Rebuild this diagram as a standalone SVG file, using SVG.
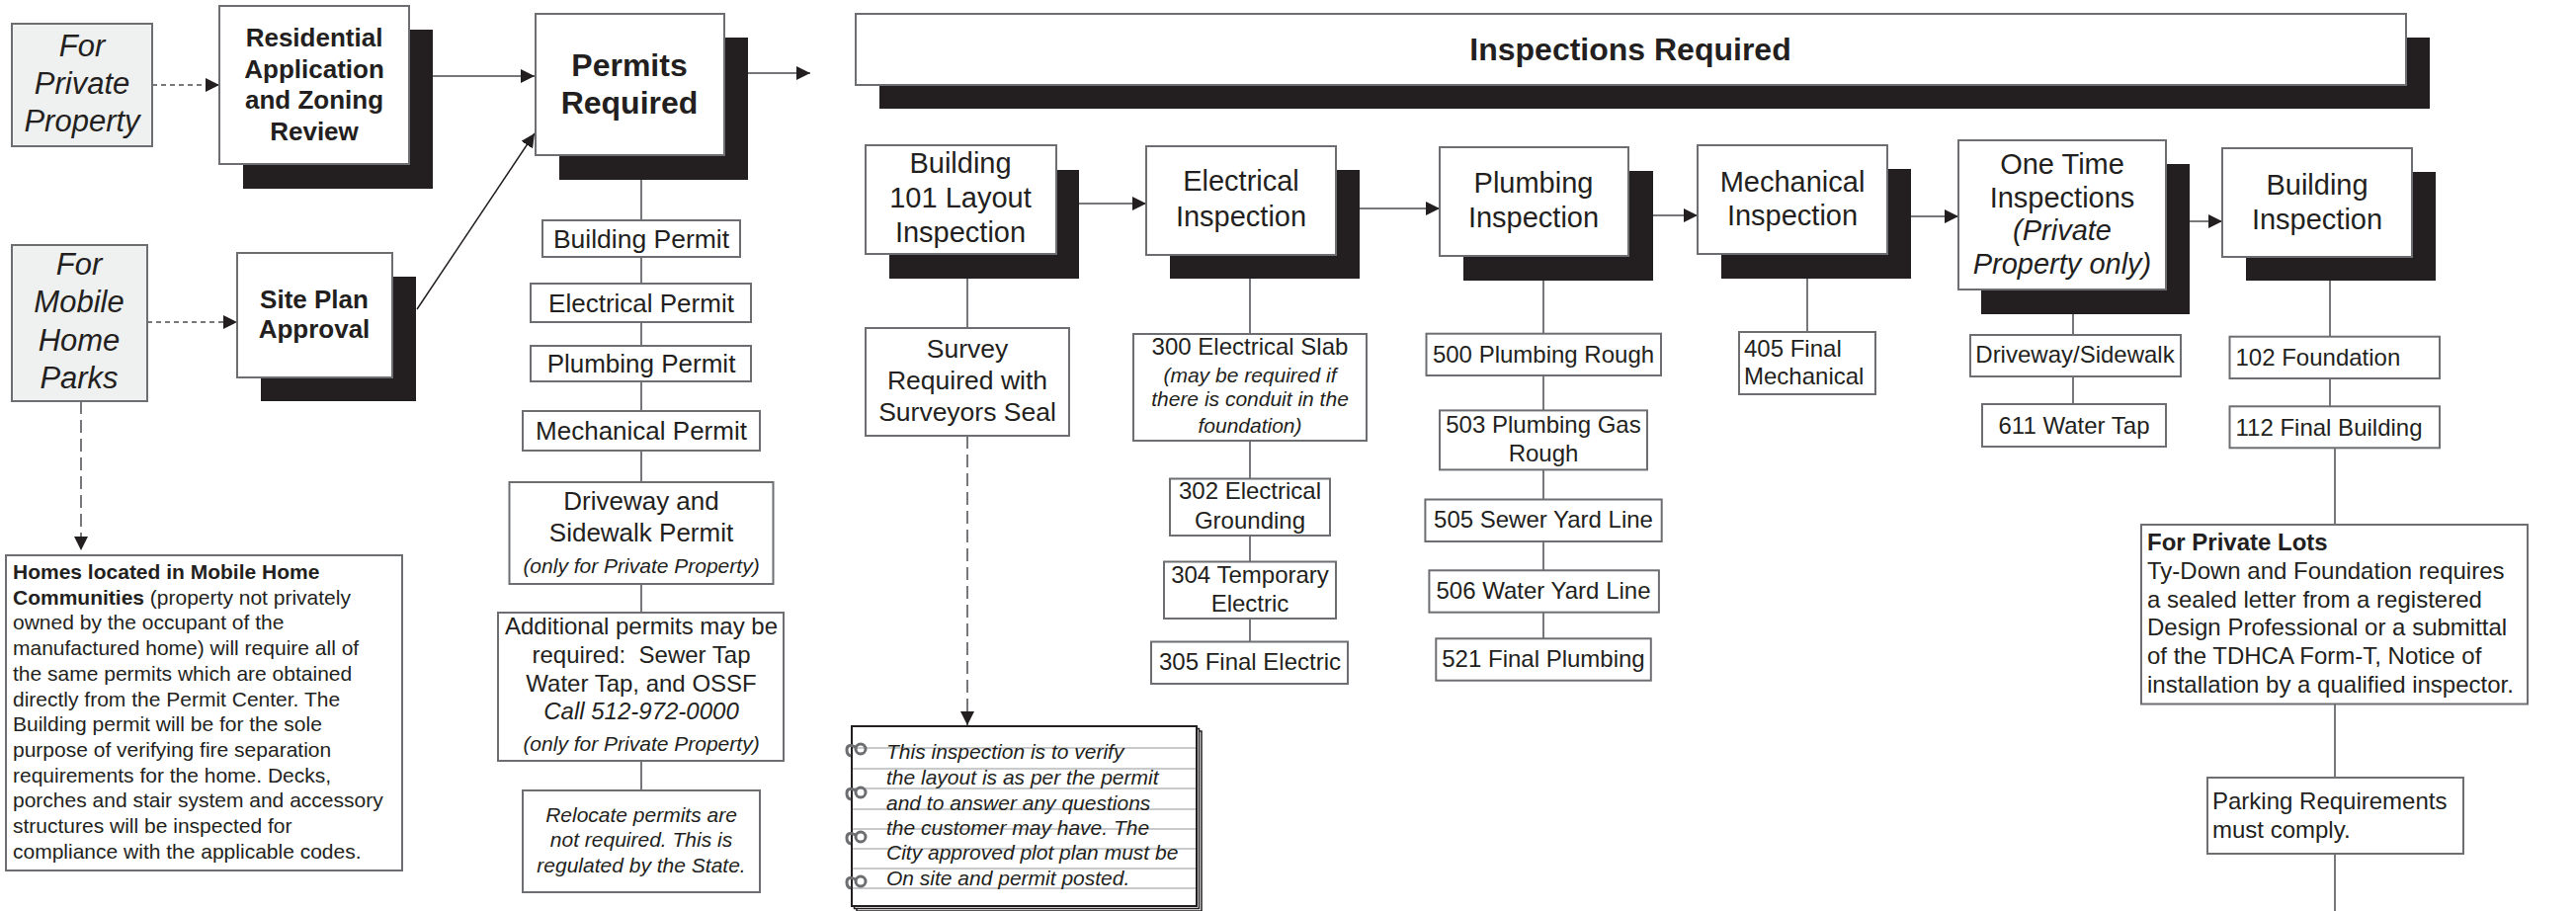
<svg xmlns="http://www.w3.org/2000/svg" width="2607" height="922" viewBox="0 0 2607 922">
<defs>
<style>
.box{fill:#fff;stroke:#6d6e71;stroke-width:2}
.gbox{fill:#eff1f0;stroke:#6d6e71;stroke-width:2}
.sh{fill:#231f20}
.ln{stroke:#77787b;stroke-width:2;fill:none}
.thin{stroke:#231f20;stroke-width:1.5;fill:none}
.sd{stroke-dasharray:5 4}
.ld{stroke-dasharray:13 6}
text{font-family:"Liberation Sans",Arial,sans-serif;fill:#231f20}
.c{text-anchor:middle}
.b{font-weight:bold}
.i{font-style:italic}
.rule{stroke:#c9cacc;stroke-width:2}
.ring{stroke:#6d6e71;stroke-width:3;fill:none}
</style>
<marker id="ah" markerUnits="userSpaceOnUse" markerWidth="14" markerHeight="14" refX="14" refY="7" orient="auto">
<path d="M0,0 L14,7 L0,14 z" fill="#231f20"/>
</marker>
</defs>
<rect width="2607" height="922" fill="#fff"/>

<g id="connectors">
<line class="ln sd" x1="154" y1="86" x2="222" y2="86" marker-end="url(#ah)"/>
<line class="ln" x1="438" y1="77" x2="541" y2="77" marker-end="url(#ah)"/>
<line class="ln sd" x1="149" y1="326" x2="240" y2="326" marker-end="url(#ah)"/>
<line class="thin" x1="422" y1="313" x2="541" y2="135" marker-end="url(#ah)"/>
<line class="ln" x1="757" y1="74" x2="820" y2="74" marker-end="url(#ah)"/>
<line class="ln ld" x1="82" y1="406" x2="82" y2="557" marker-end="url(#ah)"/>
<line class="ln" x1="649" y1="182" x2="649" y2="800"/>
<line class="ln" x1="1092" y1="206" x2="1160" y2="206" marker-end="url(#ah)"/>
<line class="ln" x1="1376" y1="211" x2="1457" y2="211" marker-end="url(#ah)"/>
<line class="ln" x1="1673" y1="218" x2="1718" y2="218" marker-end="url(#ah)"/>
<line class="ln" x1="1934" y1="219" x2="1982" y2="219" marker-end="url(#ah)"/>
<line class="ln" x1="2216" y1="224" x2="2249" y2="224" marker-end="url(#ah)"/>
<line class="ln" x1="979" y1="282" x2="979" y2="332"/>
<line class="ln ld" x1="979" y1="441" x2="979" y2="734" marker-end="url(#ah)"/>
<line class="ln" x1="1265" y1="282" x2="1265" y2="650"/>
<line class="ln" x1="1562" y1="283" x2="1562" y2="646"/>
<line class="ln" x1="1829" y1="282" x2="1829" y2="336"/>
<line class="ln" x1="2098" y1="318" x2="2098" y2="409"/>
<line class="ln" x1="2358" y1="284" x2="2358" y2="411"/>
<line class="ln" x1="2363" y1="453" x2="2363" y2="922"/>
</g>

<g id="for-private-property">
<rect class="gbox" x="12" y="24" width="142" height="124"/>
<text class="c i" font-size="31" x="83" y="57">For</text>
<text class="c i" font-size="31" x="83" y="95">Private</text>
<text class="c i" font-size="31" x="83" y="133">Property</text>
</g>

<g id="residential-application">
<rect class="sh" x="246" y="30" width="192" height="161"/>
<rect class="box" x="222" y="6" width="192" height="160"/>
<text class="c b" font-size="26" x="318" y="47">Residential</text>
<text class="c b" font-size="26" x="318" y="79">Application</text>
<text class="c b" font-size="26" x="318" y="110">and Zoning</text>
<text class="c b" font-size="26" x="318" y="142">Review</text>
</g>

<g id="permits-required">
<rect class="sh" x="566" y="38" width="191" height="144"/>
<rect class="box" x="542" y="14" width="191" height="143"/>
<text class="c b" font-size="32" x="637" y="77">Permits</text>
<text class="c b" font-size="32" x="637" y="115">Required</text>
</g>

<g id="for-mobile-home-parks">
<rect class="gbox" x="12" y="248" width="137" height="158"/>
<text class="c i" font-size="31" x="80" y="278">For</text>
<text class="c i" font-size="31" x="80" y="316">Mobile</text>
<text class="c i" font-size="31" x="80" y="355">Home</text>
<text class="c i" font-size="31" x="80" y="393">Parks</text>
</g>

<g id="site-plan-approval">
<rect class="sh" x="264" y="280" width="157" height="126"/>
<rect class="box" x="240" y="256" width="157" height="126"/>
<text class="c b" font-size="26" x="318" y="312">Site Plan</text>
<text class="c b" font-size="26" x="318" y="342">Approval</text>
</g>

<g id="homes-mobile-communities">
<rect class="box" x="6" y="562" width="401" height="319"/>
<text font-size="21" x="13" y="586"><tspan class="b">Homes located in Mobile Home</tspan></text>
<text font-size="21" x="13" y="611.7"><tspan class="b">Communities</tspan> (property not privately</text>
<text font-size="21" x="13" y="637.4">owned by the occupant of the</text>
<text font-size="21" x="13" y="663.1">manufactured home) will require all of</text>
<text font-size="21" x="13" y="688.8">the same permits which are obtained</text>
<text font-size="21" x="13" y="714.5">directly from the Permit Center. The</text>
<text font-size="21" x="13" y="740.2">Building permit will be for the sole</text>
<text font-size="21" x="13" y="765.9">purpose of verifying fire separation</text>
<text font-size="21" x="13" y="791.6">requirements for the home. Decks,</text>
<text font-size="21" x="13" y="817.3">porches and stair system and accessory</text>
<text font-size="21" x="13" y="843">structures will be inspected for</text>
<text font-size="21" x="13" y="868.7">compliance with the applicable codes.</text>
</g>

<g id="building-permit">
<rect class="box" x="549" y="223" width="200" height="37"/>
<text class="c" font-size="26.5" x="649" y="251">Building Permit</text>
</g>
<g id="electrical-permit">
<rect class="box" x="537" y="287" width="223" height="39"/>
<text class="c" font-size="26" x="649" y="316">Electrical Permit</text>
</g>
<g id="plumbing-permit">
<rect class="box" x="537" y="350" width="223" height="36"/>
<text class="c" font-size="26" x="649" y="377">Plumbing Permit</text>
</g>
<g id="mechanical-permit">
<rect class="box" x="529" y="416" width="240" height="40"/>
<text class="c" font-size="26" x="649" y="445">Mechanical Permit</text>
</g>
<g id="driveway-permit">
<rect class="box" x="515.5" y="488" width="267" height="103"/>
<text class="c" font-size="26" x="649" y="516">Driveway and</text>
<text class="c" font-size="26" x="649" y="548">Sidewalk Permit</text>
<text class="c i" font-size="21" x="649" y="580">(only for Private Property)</text>
</g>
<g id="additional-permits">
<rect class="box" x="504" y="620" width="289" height="150"/>
<text class="c" font-size="24" x="649" y="642">Additional permits may be</text>
<text class="c" font-size="24" x="649" y="671" xml:space="preserve">required:  Sewer Tap</text>
<text class="c" font-size="24" x="649" y="700">Water Tap, and OSSF</text>
<text class="c i" font-size="24" x="649" y="728">Call 512-972-0000</text>
<text class="c i" font-size="21" x="649" y="760">(only for Private Property)</text>
</g>
<g id="relocate-permits">
<rect class="box" x="529" y="800" width="240" height="103"/>
<text class="c i" font-size="21" x="649" y="832">Relocate permits are</text>
<text class="c i" font-size="21" x="649" y="857">not required. This is</text>
<text class="c i" font-size="21" x="649" y="883">regulated by the State.</text>
</g>

<g id="inspections-required">
<rect class="sh" x="890" y="38" width="1569" height="72"/>
<rect class="box" x="866" y="14" width="1569" height="72"/>
<text class="c b" font-size="32" x="1650" y="61">Inspections Required</text>
</g>

<g id="building-101-layout">
<rect class="sh" x="900" y="172" width="192" height="110"/>
<rect class="box" x="876" y="147" width="193" height="110"/>
<text class="c" font-size="29" x="972" y="175">Building</text>
<text class="c" font-size="29" x="972" y="210">101 Layout</text>
<text class="c" font-size="29" x="972" y="245">Inspection</text>
</g>
<g id="electrical-inspection">
<rect class="sh" x="1184" y="172" width="192" height="110"/>
<rect class="box" x="1160" y="148" width="192" height="110"/>
<text class="c" font-size="29" x="1256" y="193">Electrical</text>
<text class="c" font-size="29" x="1256" y="229">Inspection</text>
</g>
<g id="plumbing-inspection">
<rect class="sh" x="1481" y="173" width="192" height="111"/>
<rect class="box" x="1457" y="149" width="191" height="110"/>
<text class="c" font-size="29" x="1552" y="195">Plumbing</text>
<text class="c" font-size="29" x="1552" y="230">Inspection</text>
</g>
<g id="mechanical-inspection">
<rect class="sh" x="1742" y="171" width="192" height="111"/>
<rect class="box" x="1718" y="147" width="192" height="110"/>
<text class="c" font-size="29" x="1814" y="194">Mechanical</text>
<text class="c" font-size="29" x="1814" y="228">Inspection</text>
</g>
<g id="one-time-inspections">
<rect class="sh" x="2005" y="166" width="211" height="152"/>
<rect class="box" x="1982" y="142" width="210" height="151"/>
<text class="c" font-size="29" x="2087" y="176">One Time</text>
<text class="c" font-size="29" x="2087" y="210">Inspections</text>
<text class="c i" font-size="29" x="2087" y="243">(Private</text>
<text class="c i" font-size="29" x="2087" y="277">Property only)</text>
</g>
<g id="building-inspection">
<rect class="sh" x="2273" y="174" width="192" height="110"/>
<rect class="box" x="2249" y="150" width="192" height="110"/>
<text class="c" font-size="29" x="2345" y="197">Building</text>
<text class="c" font-size="29" x="2345" y="232">Inspection</text>
</g>

<g id="survey">
<rect class="box" x="876" y="332" width="206" height="109"/>
<text class="c" font-size="26.5" x="979" y="362">Survey</text>
<text class="c" font-size="26.5" x="979" y="394">Required with</text>
<text class="c" font-size="26.5" x="979" y="426">Surveyors Seal</text>
</g>

<g id="layout-note">
<rect x="867" y="740" width="349" height="182" fill="#fff" stroke="#231f20" stroke-width="1.5"/>
<rect x="864.5" y="737.5" width="349" height="182" fill="#fff" stroke="#231f20" stroke-width="1.5"/>
<rect x="862" y="735" width="349" height="182" fill="#fff" stroke="#231f20" stroke-width="2"/>
<line class="rule" x1="863" y1="757" x2="1210" y2="757"/>
<line class="rule" x1="863" y1="778" x2="1210" y2="778"/>
<line class="rule" x1="863" y1="798" x2="1210" y2="798"/>
<line class="rule" x1="863" y1="819" x2="1210" y2="819"/>
<line class="rule" x1="863" y1="839" x2="1210" y2="839"/>
<line class="rule" x1="863" y1="859" x2="1210" y2="859"/>
<line class="rule" x1="863" y1="879" x2="1210" y2="879"/>
<line class="rule" x1="863" y1="899" x2="1210" y2="899"/>
<g id="rings">
<circle class="ring" cx="871" cy="758" r="5"/>
<path class="ring" d="M866,756 q-9,-4 -9,3 q0,5 4,6"/>
<circle class="ring" cx="871" cy="802" r="5"/>
<path class="ring" d="M866,800 q-9,-4 -9,3 q0,5 4,6"/>
<circle class="ring" cx="871" cy="847" r="5"/>
<path class="ring" d="M866,845 q-9,-4 -9,3 q0,5 4,6"/>
<circle class="ring" cx="871" cy="892" r="5"/>
<path class="ring" d="M866,890 q-9,-4 -9,3 q0,5 4,6"/>
</g>
<text class="i" font-size="21" x="897" y="768">This inspection is to verify</text>
<text class="i" font-size="21" x="897" y="794">the layout is as per the permit</text>
<text class="i" font-size="21" x="897" y="820">and to answer any questions</text>
<text class="i" font-size="21" x="897" y="845">the customer may have. The</text>
<text class="i" font-size="21" x="897" y="870">City approved plot plan must be</text>
<text class="i" font-size="21" x="897" y="896">On site and permit posted.</text>
</g>

<g id="e300">
<rect class="box" x="1147" y="338" width="236" height="108"/>
<text class="c" font-size="24" x="1265" y="359">300 Electrical Slab</text>
<text class="c i" font-size="21" x="1265" y="387">(may be required if</text>
<text class="c i" font-size="21" x="1265" y="411">there is conduit in the</text>
<text class="c i" font-size="21" x="1265" y="438">foundation)</text>
</g>
<g id="e302">
<rect class="box" x="1184" y="484.5" width="162" height="57.5"/>
<text class="c" font-size="24" x="1265" y="505">302 Electrical</text>
<text class="c" font-size="24" x="1265" y="535">Grounding</text>
</g>
<g id="e304">
<rect class="box" x="1178" y="568.5" width="174" height="57.5"/>
<text class="c" font-size="24" x="1265" y="590">304 Temporary</text>
<text class="c" font-size="24" x="1265" y="619">Electric</text>
</g>
<g id="e305">
<rect class="box" x="1165" y="649.5" width="199" height="42.5"/>
<text class="c" font-size="24" x="1265" y="678">305 Final Electric</text>
</g>

<g id="p500">
<rect class="box" x="1443.5" y="337.7" width="237.5" height="42.3"/>
<text class="c" font-size="24" x="1562" y="367">500 Plumbing Rough</text>
</g>
<g id="p503">
<rect class="box" x="1457" y="415.4" width="210" height="60"/>
<text class="c" font-size="24" x="1562" y="438">503 Plumbing Gas</text>
<text class="c" font-size="24" x="1562" y="467">Rough</text>
</g>
<g id="p505">
<rect class="box" x="1442.4" y="505.5" width="239.3" height="42.5"/>
<text class="c" font-size="24" x="1562" y="534">505 Sewer Yard Line</text>
</g>
<g id="p506">
<rect class="box" x="1446.4" y="577.3" width="232.5" height="42.4"/>
<text class="c" font-size="24" x="1562" y="606">506 Water Yard Line</text>
</g>
<g id="p521">
<rect class="box" x="1453.3" y="646.3" width="217.5" height="42.4"/>
<text class="c" font-size="24" x="1562" y="675">521 Final Plumbing</text>
</g>

<g id="m405">
<rect class="box" x="1760" y="336" width="138" height="63"/>
<text font-size="24" x="1765" y="361">405 Final</text>
<text font-size="24" x="1765" y="389">Mechanical</text>
</g>

<g id="driveway-sidewalk">
<rect class="box" x="1994" y="339" width="213" height="42"/>
<text class="c" font-size="24" x="2100" y="367">Driveway/Sidewalk</text>
</g>
<g id="water-tap-611">
<rect class="box" x="2006" y="409" width="186" height="43"/>
<text class="c" font-size="24" x="2099" y="439">611 Water Tap</text>
</g>

<g id="b102">
<rect class="box" x="2256.5" y="340.7" width="212.5" height="42.3"/>
<text font-size="24" x="2262.5" y="370">102 Foundation</text>
</g>
<g id="b112">
<rect class="box" x="2256.5" y="411.3" width="212.5" height="42"/>
<text font-size="24" x="2262.5" y="441">112 Final Building</text>
</g>

<g id="private-lots">
<rect class="box" x="2167" y="531" width="391" height="181.5"/>
<text class="b" font-size="24" x="2173" y="557">For Private Lots</text>
<text font-size="24" x="2173" y="586">Ty-Down and Foundation requires</text>
<text font-size="24" x="2173" y="615">a sealed letter from a registered</text>
<text font-size="24" x="2173" y="643">Design Professional or a submittal</text>
<text font-size="24" x="2173" y="672">of the TDHCA Form-T, Notice of</text>
<text font-size="24" x="2173" y="701">installation by a qualified inspector.</text>
</g>

<g id="parking">
<rect class="box" x="2234" y="787" width="259" height="77"/>
<text font-size="24" x="2239" y="819">Parking Requirements</text>
<text font-size="24" x="2239" y="848">must comply.</text>
</g>
</svg>
